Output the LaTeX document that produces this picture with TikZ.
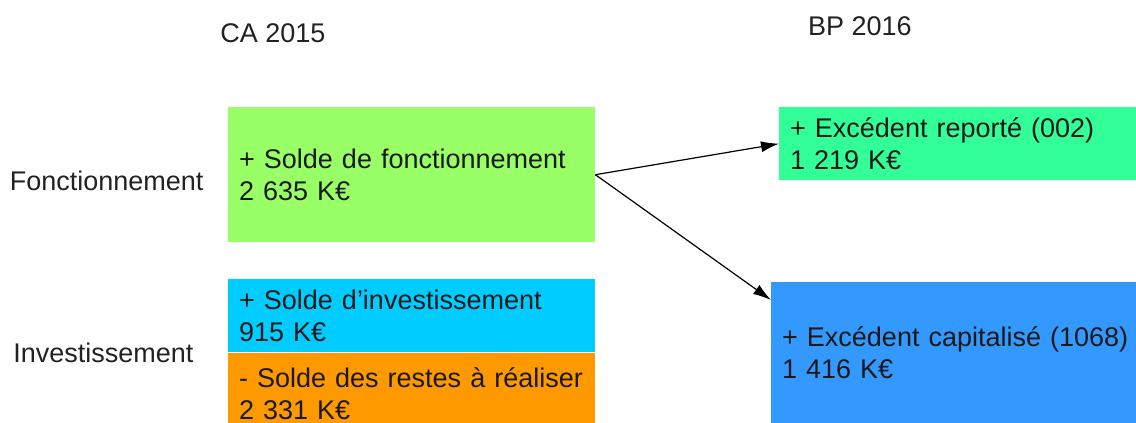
\documentclass[tikz,border=0pt]{standalone}
\usepackage{fontspec}
\setmainfont{Liberation Sans}
\usepackage{tikz}
\usetikzlibrary{positioning,arrows.meta}

\definecolor{fonctgreen}{HTML}{99FF66}
\definecolor{reportgreen}{HTML}{33FF99}
\definecolor{investcyan}{HTML}{00CCFF}
\definecolor{rarorange}{HTML}{FF9900}
\definecolor{capblue}{HTML}{3399FF}
\definecolor{labelgray}{HTML}{222222}

\tikzset{
  budget/.style={rectangle, anchor=north west, align=left, inner xsep=11pt, inner ysep=0pt,
    font=\fontsize{27}{32}\selectfont, text=black!90},
  heading/.style={font=\fontsize{27}{32}\selectfont, text=labelgray},
  flow/.style={-{Latex[length=18pt,width=11pt]}, line width=1.2pt}
}

\begin{document}
\begin{tikzpicture}[x=1pt,y=-1pt]
  \useasboundingbox (0,0) rectangle (1136,423);
  % CA 2015
  \node[heading] (ca) at (273,33) {CA 2015};
  \node[budget, fill=fonctgreen, text width=345pt, minimum height=135pt] (fonct) at (228,107)
    {+ Solde de fonctionnement\\2 635 K€};
  \node[budget, fill=investcyan, text width=345pt, minimum height=73pt] (invest) at (228,279)
    {+ Solde d’investissement\\915 K€};
  \node[budget, fill=rarorange, text width=345pt, minimum height=82pt, below=0pt of invest] (rar)
    {- Solde des restes à réaliser\\2 331 K€};
  \node[heading, left=21pt of fonct.west, yshift=-6pt] (fonctlabel) {Fonctionnement};
  \node[heading, left=31pt of invest.south west] (investlabel) {Investissement};
  % BP 2016
  \node[heading] (bp) at (860,26) {BP 2016};
  \node[budget, fill=reportgreen, text width=400pt, minimum height=73pt] (report) at (779,107)
    {+ Excédent reporté (002)\\1 219 K€};
  \node[budget, fill=capblue, text width=400pt, minimum height=150pt, text depth=42pt] (capital) at (771,282)
    {+ Excédent capitalisé (1068)\\1 416 K€};
  % affectation
  \draw[flow] (fonct.east) -- (report.west);
  \draw[flow] (fonct.east) -- ([yshift=-18pt]capital.north west);
\end{tikzpicture}
\end{document}
